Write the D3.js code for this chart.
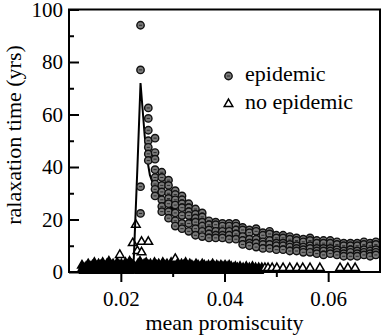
<!DOCTYPE html>
<html>
<head>
<meta charset="utf-8">
<script src="https://cdn.jsdelivr.net/npm/d3@7"></script>
<style>
  body { margin: 0; background: #fff; }
  svg text { font-family: "Liberation Serif", "Times New Roman", serif; }
</style>
</head>
<body>
<div id="chart"></div>
<script>
var w = 382;
var h = 336;

// epidemic runs: one x per column, several relaxation times per column
var epidemicX = [0.0238, 0.0253, 0.0266, 0.0279, 0.0292, 0.0305, 0.0318, 0.0331, 0.0344, 0.0357,
	0.0370, 0.0383, 0.0396, 0.0409, 0.0422, 0.0435, 0.0448, 0.0461, 0.0474, 0.0487,
	0.0500, 0.0513, 0.0526, 0.0539, 0.0552, 0.0565, 0.0578, 0.0591, 0.0604, 0.0617,
	0.0630, 0.0643, 0.0656, 0.0669, 0.0681, 0.0692];
var epidemicY = [
	[94, 77, 32.5, 22.3],
	[62.5, 58.5, 54, 50, 47.5, 45, 42.5],
	[51, 45.5, 43, 39, 36, 33.5, 31.5, 29],
	[38, 36, 33, 30.5, 27.5, 25, 23],
	[35, 33, 30, 28, 26, 23, 20.5],
	[31, 29.5, 27.5, 25.5, 22.5, 19.5, 17.5],
	[29, 27.5, 26, 24.5, 21.5, 18.5, 16.5],
	[26, 24.5, 23, 21.5, 18.5, 15.5],
	[24, 22, 20.5, 19, 16.5, 14],
	[22.5, 21, 19, 17.5, 15.5, 13.5],
	[19.5, 18, 16, 14.5, 13],
	[19, 18, 15.5, 14, 13],
	[18.5, 17.5, 15.5, 14, 13],
	[18.5, 17.5, 15.5, 14, 12.5],
	[18.5, 17.5, 16, 14.5, 12.5],
	[17, 16, 13.5, 12, 10.5],
	[16, 15, 12.5, 11, 10],
	[16.5, 15.5, 12.5, 11, 9.5],
	[15, 14, 11.5, 10.5, 9],
	[15.5, 14.5, 12, 10.5, 9],
	[14, 13, 11, 10, 8.5],
	[14, 13, 11, 10, 8.5],
	[13.5, 12.5, 10.5, 9.5, 8],
	[13, 12, 10, 9, 8],
	[12.5, 11.5, 9.5, 8.5, 7.5],
	[13, 12, 10, 9, 7.5],
	[12, 11, 9, 8, 7],
	[12, 11, 9, 8, 6.5],
	[12, 11, 9, 8, 7],
	[11.5, 10.5, 8.5, 7.5, 6.5],
	[11, 10, 8, 7, 6],
	[11, 10, 8.5, 7.5, 6],
	[11, 10, 8, 7, 6],
	[11.5, 10.5, 8.5, 7.5, 6.5],
	[11, 10, 8, 7, 6],
	[11.5, 10.5, 8.5, 7.5, 6.5]
];

// no-epidemic runs
var noEpidemicX = [0.0125, 0.0129, 0.0133, 0.0137, 0.0141, 0.0145, 0.0149, 0.0153, 0.0157, 0.0161,
	0.0165, 0.0169, 0.0173, 0.0177, 0.0181, 0.0185, 0.0189, 0.0193, 0.0197, 0.0198,
	0.0201, 0.0205, 0.0209, 0.0213, 0.0217, 0.0221, 0.0223, 0.0225, 0.0229, 0.0232,
	0.0233, 0.0237, 0.0240, 0.0241, 0.0245, 0.0249, 0.0253, 0.0257, 0.0261, 0.0265,
	0.0269, 0.0273, 0.0277, 0.0281, 0.0285, 0.0289, 0.0293, 0.0297, 0.0301, 0.0305,
	0.0309, 0.0313, 0.0317, 0.0321, 0.0325, 0.0329, 0.0333, 0.0337, 0.0341, 0.0345,
	0.0349, 0.0353, 0.0357, 0.0361, 0.0365, 0.0369, 0.0373, 0.0377, 0.0381, 0.0385,
	0.0389, 0.0393, 0.0397, 0.0401, 0.0405, 0.0409, 0.0413, 0.0417, 0.0421, 0.0425,
	0.0430, 0.0436, 0.0442, 0.0448, 0.0454, 0.0460, 0.0466, 0.0472, 0.0478, 0.0484,
	0.0492, 0.0501, 0.0513, 0.0526, 0.0540, 0.0551, 0.0565, 0.0584, 0.0623, 0.0638,
	0.0652];
var noEpidemicY = [
	[1, 2.5], [0.5, 1.5], [2, 1], [3, 1.5], [0.5, 2], [2.5, 1], [3.5, 1.5], [2, 0.5], [3, 1], [2.5, 1.5],
	[3.5, 1], [2, 0.5], [3, 1.5], [4, 1], [2.5, 0.5], [3, 1.5], [2, 1], [3.5, 0.5], [2.5, 1.5], [6.5],
	[3, 1], [2, 0.5], [3.5, 1.5], [2.5, 1], [4, 0.5], [3, 1.5], [11], [2.5, 1], [18, 1.5], [8],
	[3, 1], [4, 0.5], [11.5, 7.5], [2.5, 1.5], [3, 1], [3.5, 0.5], [11.5, 2.5, 1.5], [3, 1], [2, 0.5], [3.5, 1.5],
	[2.5, 1], [3, 0.5], [2, 1.5], [3.5, 1], [2.5, 0.5], [3, 1.5], [2, 1], [3.5, 0.5], [2.5, 1.5], [5, 1],
	[3, 0.5], [2, 1.5], [3, 1], [2.5, 0.5], [3.5, 1.5], [2, 1], [3, 0.5], [2.5, 1.5], [2, 1], [3, 0.5],
	[2.5, 1.5], [2, 1], [3, 0.5], [2.5, 1.5], [2, 1], [2.5, 0.5], [2, 1.5], [3, 1], [2, 0.5], [2.5, 1.5],
	[2, 1], [2.5, 0.5], [2, 1.5], [2.5, 1], [2, 0.5], [2.5, 1.5], [2, 1], [1.5, 0.5], [2, 1.5], [1.5, 1],
	[2, 0.5], [1.5, 1], [2, 0.5], [1.5], [2, 0.5], [1.5], [1.5, 0.5], [1.5], [1.5], [1.5],
	[1.5], [1.5], [1.5], [1.5], [1.5], [1.5], [1.5], [1.5], [1.5], [1.5],
	[1.5]
];

// fitted curve
var curveX = [0.0125, 0.015, 0.0175, 0.02, 0.021, 0.022, 0.0225, 0.0232, 0.0238, 0.0242,
	0.0246, 0.025, 0.0256, 0.0265, 0.027, 0.028, 0.030, 0.032, 0.034, 0.036,
	0.038, 0.040, 0.045, 0.050, 0.055, 0.060, 0.065, 0.070];
var curveY = [1.5, 2, 2.5, 3, 3.5, 3, 5, 40, 72, 62,
	52, 44, 37, 32, 30, 27.5, 24, 21.5, 19.5, 17.5,
	16, 15, 12.8, 11.3, 10.2, 9.3, 8.7, 8.2];

var xMajor = [0.02, 0.04, 0.06];
var xMinor = [0.03, 0.05];
var yMajor = [0, 20, 40, 60, 80, 100];
var yMinor = [10, 30, 50, 70, 90];

var plotLeft = 69, plotRight = 380, plotTop = 9.5, plotBottom = 272;
var serif = '"Liberation Serif", "Times New Roman", serif';

var x = d3.scaleLinear().domain([0.01, 0.07]).range([plotLeft, plotRight]);
var y = d3.scaleLinear().domain([0, 100]).range([plotBottom, plotTop]);

var svg = d3.select('#chart')
	.append('svg')
	.attr('width', w)
	.attr('height', h);

function flatten(xs, ys) {
	var out = [];
	xs.forEach(function (xv, i) {
		ys[i].forEach(function (yv) { out.push({ x: xv, y: yv }); });
	});
	return out;
}

var tri = d3.symbol().type(d3.symbolTriangle).size(32);

// no epidemic triangles; where many runs pile up the outlines merge into black
var noEpi = flatten(noEpidemicX, noEpidemicY);
noEpi.forEach(function (d) {
	d.px = x(d.x);
	d.py = y(d.y);
});
noEpi.forEach(function (d) {
	d.crowd = noEpi.filter(function (o) {
		return o !== d && Math.abs(o.px - d.px) <= 4.5 && Math.abs(o.py - d.py) <= 6;
	}).length;
});

svg.append('g')
	.selectAll('path')
	.data(noEpi)
	.enter()
	.append('path')
	.attr('d', tri)
	.attr('transform', function (d) { return 'translate(' + d.px + ',' + d.py + ')'; })
	.attr('fill', function (d) { return d.crowd >= 3 ? '#000' : '#fff'; })
	.attr('stroke', '#000')
	.attr('stroke-width', 1.5);

// curve
var lineFn = d3.line()
	.x(function (d, i) { return x(curveX[i]); })
	.y(function (d) { return y(d); });

svg.append('path')
	.attr('d', lineFn(curveY))
	.attr('fill', 'none')
	.attr('stroke', '#000')
	.attr('stroke-width', 2)
	.attr('stroke-linejoin', 'miter');

// epidemic circles
function drawDot(g, cx, cy) {
	g.append('circle')
		.attr('cx', cx)
		.attr('cy', cy)
		.attr('r', 3.7)
		.attr('fill', '#7a7a7a')
		.attr('stroke', '#111')
		.attr('stroke-width', 1.4);
	g.append('line')
		.attr('x1', cx - 1.6).attr('x2', cx + 1.6)
		.attr('y1', cy).attr('y2', cy)
		.attr('stroke', '#2a2a2a')
		.attr('stroke-width', 1);
}

var dots = svg.append('g');
flatten(epidemicX, epidemicY).forEach(function (d) {
	drawDot(dots, x(d.x), y(d.y));
});

// axes
var xAxis = svg.append('g')
	.attr('transform', 'translate(0,' + plotBottom + ')')
	.call(d3.axisBottom(x).tickValues(xMajor).tickSize(10).tickSizeOuter(0).tickPadding(9)
		.tickFormat(d3.format('.2f')));
var xAxisMinor = svg.append('g')
	.attr('transform', 'translate(0,' + plotBottom + ')')
	.call(d3.axisBottom(x).tickValues(xMinor).tickSize(5).tickSizeOuter(0).tickFormat(''));

var yAxis = svg.append('g')
	.attr('transform', 'translate(' + plotLeft + ',0)')
	.call(d3.axisLeft(y).tickValues(yMajor).tickSize(-10).tickSizeOuter(0).tickPadding(6));
var yAxisMinor = svg.append('g')
	.attr('transform', 'translate(' + plotLeft + ',0)')
	.call(d3.axisLeft(y).tickValues(yMinor).tickSize(-5).tickSizeOuter(0).tickFormat(''));

[xAxis, xAxisMinor, yAxis, yAxisMinor].forEach(function (a) {
	a.attr('font-family', serif).attr('font-size', 21);
	a.select('.domain').remove();
	a.selectAll('line').attr('stroke', '#000').attr('stroke-width', 2);
	a.selectAll('text').attr('fill', '#000');
});

// frame
svg.append('rect')
	.attr('x', plotLeft)
	.attr('y', plotTop)
	.attr('width', plotRight - plotLeft)
	.attr('height', plotBottom - plotTop)
	.attr('fill', 'none')
	.attr('stroke', '#000')
	.attr('stroke-width', 2);

// titles
svg.append('text')
	.text('mean promiscuity')
	.attr('x', (plotLeft + plotRight) / 2)
	.attr('y', 330)
	.attr('text-anchor', 'middle')
	.attr('font-family', serif)
	.attr('font-size', '22px');

svg.append('text')
	.text('ralaxation time (yrs)')
	.attr('transform', 'translate(21,135) rotate(-90)')
	.attr('text-anchor', 'middle')
	.attr('font-family', serif)
	.attr('font-size', '22px');

// legend
var legend = svg.append('g');
drawDot(legend, 228.5, 76);
legend.append('text')
	.text('epidemic')
	.attr('x', 245)
	.attr('y', 81)
	.attr('font-family', serif)
	.attr('font-size', '22px');
legend.append('path')
	.attr('d', tri)
	.attr('transform', 'translate(228.5,104)')
	.attr('fill', '#fff')
	.attr('stroke', '#000')
	.attr('stroke-width', 1.5);
legend.append('text')
	.text('no epidemic')
	.attr('x', 245)
	.attr('y', 108.5)
	.attr('font-family', serif)
	.attr('font-size', '22px');
</script>
</body>
</html>
